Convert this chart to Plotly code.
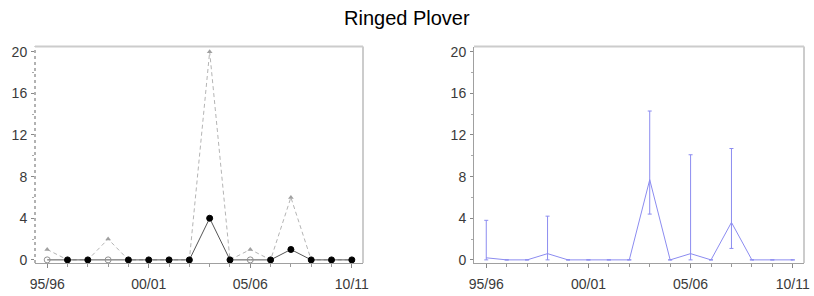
import plotly.graph_objects as go

seasons = ['95/96', '96/97', '97/98', '98/99', '99/00', '00/01', '01/02', '02/03',
           '03/04', '04/05', '05/06', '06/07', '07/08', '08/09', '09/10', '10/11']
min_count = [0, 0, 0, 0, 0, 0, 0, 0, 4, 0, 0, 0, 1, 0, 0, 0]
max_count = [1, 0, 0, 2, 0, 0, 0, 0, 20, 0, 1, 0, 6, 0, 0, 0]
mean_count = [0.2, 0, 0, 0.6, 0, 0, 0, 0, 7.7, 0, 0.6, 0, 3.6, 0, 0, 0]
upper_ci = [3.8, 0, 0, 4.2, 0, 0, 0, 0, 14.3, 0, 10.1, 0, 10.7, 0, 0, 0]
lower_ci = [0, 0, 0, 0, 0, 0, 0, 0, 4.4, 0, 0, 0, 1.1, 0, 0, 0]
tick_labels = ['95/96', '00/01', '05/06', '10/11']
y_ticks = [0, 4, 8, 12, 16, 20]
title = 'Ringed Plover'

x = list(range(len(seasons)))
tickvals = [seasons.index(t) for t in tick_labels]

fig = go.Figure()

# left chart: max (grey dashed, triangles)
fig.add_trace(go.Scatter(
    x=x, y=max_count, mode='lines+markers', xaxis='x', yaxis='y',
    line=dict(color='#b4b4b4', width=1, dash='4px,3px'),
    marker=dict(symbol='triangle-up', size=5, color='#a0a0a0'),
    showlegend=False))

# left chart: min (black circles; open where max > 0 and min == 0)
sym = ['circle-open' if (mn == 0 and mx > 0) else 'circle' for mn, mx in zip(min_count, max_count)]
col = ['#909090' if s == 'circle-open' else '#000000' for s in sym]
fig.add_trace(go.Scatter(
    x=x, y=min_count, mode='lines+markers', xaxis='x', yaxis='y',
    line=dict(color='#555555', width=1),
    marker=dict(symbol=sym, size=6, color=col, line=dict(color=col, width=1)),
    showlegend=False))

# right chart: mean with CI
err_plus = [u - m for u, m in zip(upper_ci, mean_count)]
err_minus = [m - l for m, l in zip(mean_count, lower_ci)]
fig.add_trace(go.Scatter(
    x=x, y=mean_count, mode='lines', xaxis='x2', yaxis='y2',
    line=dict(color='#8c8cf0', width=1),
    error_y=dict(type='data', symmetric=False, array=err_plus, arrayminus=err_minus,
                 color='#8c8cf0', thickness=1, width=2),
    showlegend=False))

axis_font = dict(family='Liberation Sans, Arial, sans-serif', size=14, color='#3a3a3a')
xcommon = dict(range=[-0.6, 15.55], tickmode='array', tickvals=tickvals, ticktext=tick_labels,
               ticks='outside', ticklen=4, tickcolor='#888888', showgrid=False, zeroline=False,
               showline=True, linecolor='#a0a0a0', linewidth=1, tickfont=axis_font,
               minor=dict(ticks='outside', tickmode='array', tickvals=x, ticklen=3, tickcolor='#999999'),
               ticklabelstandoff=4, automargin=False)
ycommon = dict(range=[-0.3, 20.5], tickvals=y_ticks, ticks='outside', ticklen=3,
               tickcolor='#888888', showgrid=False, zeroline=False, tickfont=axis_font,
               minor=dict(ticks='outside', dtick=2, ticklen=2, tickcolor='#aaaaaa'),
               ticklabelstandoff=1, automargin=False)

fig.update_layout(
    width=814, height=296,
    margin=dict(l=0, r=0, t=0, b=0, autoexpand=False),
    paper_bgcolor='white', plot_bgcolor='white',
    xaxis=dict(domain=[35 / 814, 363 / 814], anchor='y', **xcommon),
    yaxis=dict(domain=[1 - 263 / 296, 1 - 46.5 / 296], anchor='x', showline=False, **ycommon),
    xaxis2=dict(domain=[474 / 814, 804 / 814], anchor='y2', **xcommon),
    yaxis2=dict(domain=[1 - 263 / 296, 1 - 46.5 / 296], anchor='x2', showline=True,
                linecolor='#a0a0a0', linewidth=1, **ycommon),
)

annotations = [dict(text=title, xref='paper', yref='paper', x=407 / 814, y=1 - 18 / 296,
                    xanchor='center', yanchor='middle', showarrow=False,
                    font=dict(family='Liberation Sans, Arial, sans-serif', size=20, color='#000000'))]
# tick labels of the chart above, cut off at the top edge
for xa in ('x', 'x2'):
    for tv, tl in zip(tickvals, tick_labels):
        annotations.append(dict(text=tl, xref=xa, yref='paper', x=tv, y=1 + 5 / 296,
                                xanchor='center', yanchor='middle', showarrow=False,
                                font=dict(family='Liberation Sans, Arial, sans-serif', size=14,
                                          color='#bbbbbb')))
fig.update_layout(annotations=annotations)

# frames: dotted left axis on left chart, light top/right borders on both
shapes = [
    dict(type='line', xref='x domain', yref='y domain', x0=0, x1=0, y0=0, y1=1,
         line=dict(color='#999999', width=1.5, dash='dot')),
]
for xr, yr in (('x domain', 'y domain'), ('x2 domain', 'y2 domain')):
    shapes.append(dict(type='line', xref=xr, yref=yr, x0=0, x1=1, y0=1, y1=1,
                       line=dict(color='#cccccc', width=2)))
    shapes.append(dict(type='line', xref=xr, yref=yr, x0=1, x1=1, y0=0, y1=1,
                       line=dict(color='#cccccc', width=2)))
fig.update_layout(shapes=shapes)

fig.write_html('out.html', config={'displayModeBar': False},
               post_script="document.body.style.margin='0';document.body.style.overflow='hidden';")
